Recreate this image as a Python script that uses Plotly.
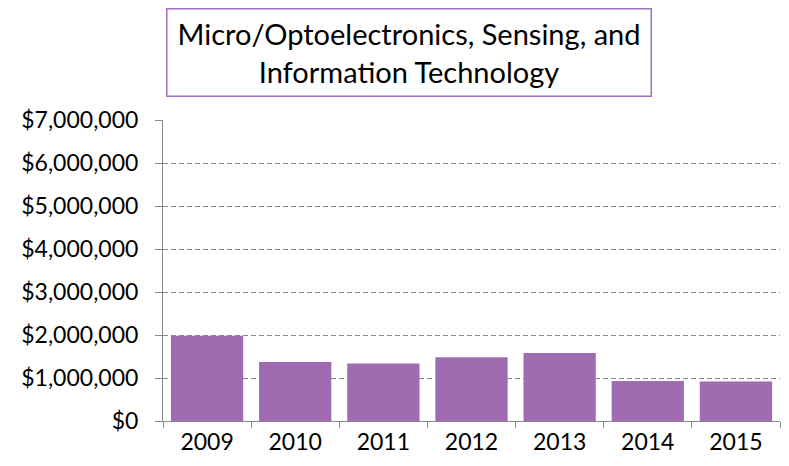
import plotly.graph_objects as go

years = ["2009", "2010", "2011", "2012", "2013", "2014", "2015"]
funding = [1980000, 1370000, 1340000, 1480000, 1580000, 930000, 920000]
y_ticks = [0, 1000000, 2000000, 3000000, 4000000, 5000000, 6000000, 7000000]
y_labels = ["$0", "$1,000,000", "$2,000,000", "$3,000,000", "$4,000,000",
            "$5,000,000", "$6,000,000", "$7,000,000"]

fig = go.Figure()
fig.add_trace(go.Bar(x=years, y=funding, marker_color="#A06BB1",
                     marker_line_width=0))

fig.update_layout(
    width=789, height=466,
    margin=dict(l=155, r=17, t=112, b=53),
    paper_bgcolor="white", plot_bgcolor="white",
    font=dict(family="Lato, sans-serif", size=23, color="black"),
    bargap=0.18,
    showlegend=False,
)
fig.update_xaxes(showline=True, linecolor="#888888", linewidth=1,
                 ticks="outside", tickson="boundaries", ticklen=6,
                 tickcolor="#888888", showgrid=False)
# range a hair above 7M so the top gridline is drawn
fig.update_yaxes(range=[0, 7000500], tickvals=y_ticks, ticktext=y_labels,
                 showline=True, linecolor="#888888", linewidth=1,
                 ticks="outside", ticklen=7, tickcolor="#888888",
                 ticklabelstandoff=12,
                 showgrid=True, gridcolor="#888888", griddash="5px,3px",
                 gridwidth=1, zeroline=False)

fig.add_annotation(
    text="Micro/Optoelectronics, Sensing, and<br>Information Technology",
    xref="paper", yref="paper", x=0.3995, y=1.2243,
    xanchor="center", yanchor="middle", showarrow=False,
    width=483, height=86, borderpad=0, borderwidth=1.5,
    bordercolor="#A070C0", font=dict(size=29), align="center",
)

fig.write_html("out.html")
